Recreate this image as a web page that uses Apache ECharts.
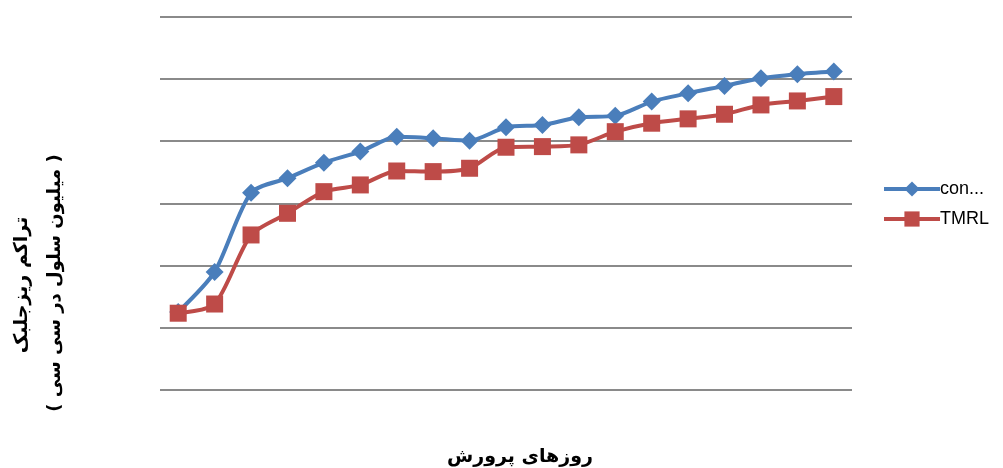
<!DOCTYPE html>
<html>
<head>
<meta charset="utf-8">
<script src="https://cdn.jsdelivr.net/npm/echarts@6/dist/echarts.min.js"></script>
<style>
  html, body { margin: 0; padding: 0; background: #fff; }
  #chart { width: 1003px; height: 468px; }
</style>
</head>
<body>
<div id="chart"></div>
<script>
// Culture days 1..19
const days = ['1','2','3','4','5','6','7','8','9','10','11','12','13','14','15','16','17','18','19'];

// Microalgae density per day
const controlValues = [6.27, 9.49, 15.86, 17.02, 18.27, 19.16, 20.36, 20.24, 20.04, 21.12, 21.30, 21.92, 22.03, 23.18, 23.85, 24.44, 25.06, 25.38, 25.59];
const tmrlValues = [6.17, 6.91, 12.46, 14.20, 15.94, 16.48, 17.60, 17.55, 17.82, 19.51, 19.56, 19.70, 20.76, 21.44, 21.79, 22.16, 22.91, 23.23, 23.58];

const seriesNames = ['con...', 'TMRL'];
const yTitleLine1 = 'تراکم ریزجلبک';
const yTitleLine2 = '( میلیون سلول در سی سی )';
const xTitle = 'روزهای پرورش';

const chart = echarts.init(document.getElementById('chart'), null, { renderer: 'canvas' });

const titleFont = 'bold 19px "DejaVu Sans", sans-serif';
const unitFont = 'bold 18px "DejaVu Sans", sans-serif';

chart.setOption({
  animation: false,
  backgroundColor: '#ffffff',
  grid: { left: 160, right: 151, top: 16.7, bottom: 78, containLabel: false },
  xAxis: {
    type: 'category',
    data: days,
    boundaryGap: true,
    axisLine: { show: false },
    axisTick: { show: false },
    axisLabel: { show: false },
    splitLine: { show: false }
  },
  yAxis: {
    type: 'value',
    min: 0,
    max: 30,
    interval: 5,
    axisLine: { show: false },
    axisTick: { show: false },
    axisLabel: { show: false },
    splitLine: { show: true, lineStyle: { color: '#8a8a8a', width: 2 } }
  },
  legend: {
    orient: 'vertical',
    left: 877,
    top: 175,
    itemWidth: 56,
    itemHeight: 19,
    itemGap: 12,
    lineStyle: { width: 4 },
    textStyle: { fontFamily: '"Liberation Sans", Arial, sans-serif', fontSize: 18, color: '#000', padding: [0, 0, 0, -5] },
    data: seriesNames
  },
  series: [
    {
      name: seriesNames[0],
      type: 'line',
      data: controlValues,
      smooth: 0.25,
      symbol: 'diamond',
      symbolSize: 18,
      lineStyle: { color: '#4a7ebb', width: 4 },
      itemStyle: { color: '#4a7ebb' },
      z: 2
    },
    {
      name: seriesNames[1],
      type: 'line',
      data: tmrlValues,
      smooth: 0.25,
      symbol: 'rect',
      symbolSize: 17,
      lineStyle: { color: '#be4b48', width: 4 },
      itemStyle: { color: '#be4b48' },
      z: 3
    }
  ],
  graphic: [
    {
      type: 'text',
      x: 22, y: 285,
      rotation: Math.PI / 2,
      style: { text: yTitleLine1, font: titleFont, fill: '#000', align: 'center', verticalAlign: 'middle' }
    },
    {
      type: 'text',
      x: 55, y: 283,
      rotation: Math.PI / 2,
      style: { text: yTitleLine2, font: unitFont, fill: '#000', align: 'center', verticalAlign: 'middle' }
    },
    {
      type: 'text',
      x: 520, y: 457,
      style: { text: xTitle, font: titleFont, fill: '#000', align: 'center', verticalAlign: 'middle' }
    }
  ]
});
</script>
</body>
</html>
